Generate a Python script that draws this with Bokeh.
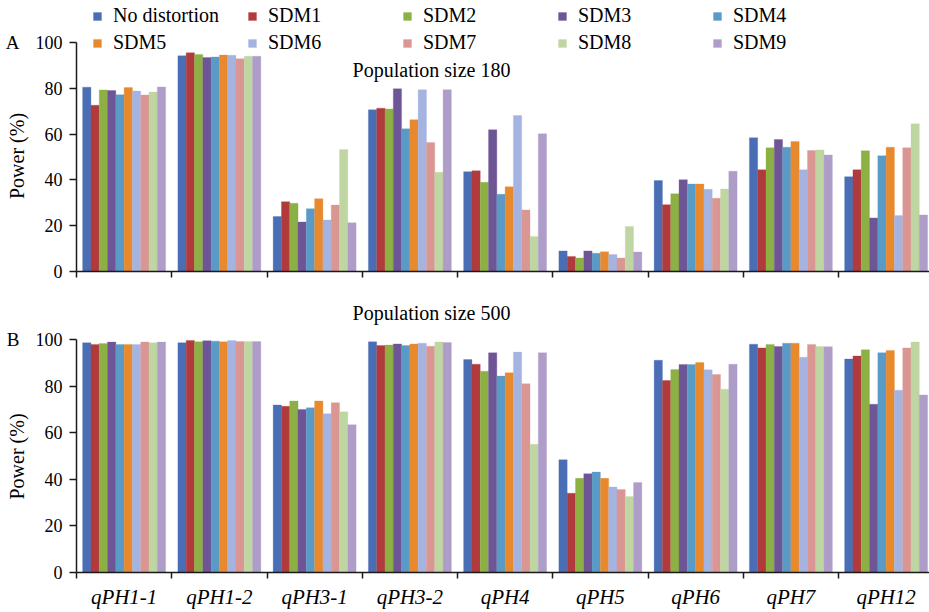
from bokeh.plotting import figure
from bokeh.models import (ColumnDataSource, FixedTicker, Legend, LegendItem, Label, Range1d,
                          LinearAxis)
from bokeh.layouts import column
from bokeh.embed import file_html
from bokeh.resources import INLINE

# ---------------- data ----------------
categories = ["qPH1-1", "qPH1-2", "qPH3-1", "qPH3-2", "qPH4", "qPH5", "qPH6", "qPH7", "qPH12"]
series = ["No distortion", "SDM1", "SDM2", "SDM3", "SDM4", "SDM5", "SDM6", "SDM7", "SDM8", "SDM9"]
colors = ["#4A6EB5", "#B03A3C", "#8DB044", "#6E5596", "#5A9AC6", "#E8892E",
          "#A4B3E0", "#D99693", "#BFD6A2", "#AE9DC9"]

# Population size 180 (panel A), power %
a_no_distortion = [80.5, 94.2, 24.0, 70.6, 43.6, 9.0, 39.7, 58.4, 41.4]
a_sdm1 = [72.6, 95.5, 30.5, 71.3, 44.0, 6.6, 29.2, 44.4, 44.4]
a_sdm2 = [79.3, 94.8, 29.8, 71.0, 39.0, 5.9, 33.9, 54.0, 52.7]
a_sdm3 = [79.0, 93.4, 21.6, 79.8, 61.9, 9.0, 40.1, 57.6, 23.4]
a_sdm4 = [77.2, 93.7, 27.4, 62.3, 33.7, 8.0, 38.2, 54.3, 50.5]
a_sdm5 = [80.3, 94.5, 31.8, 66.3, 37.0, 8.6, 38.2, 56.8, 54.3]
a_sdm6 = [78.8, 94.4, 22.5, 79.4, 68.1, 7.4, 35.9, 44.4, 24.4]
a_sdm7 = [77.1, 92.9, 29.0, 56.3, 26.9, 5.9, 32.0, 52.8, 54.0]
a_sdm8 = [78.4, 94.0, 53.3, 43.3, 15.3, 19.6, 36.0, 53.1, 64.5]
a_sdm9 = [80.6, 94.0, 21.3, 79.4, 60.1, 8.5, 43.8, 50.9, 24.7]

# Population size 500 (panel B), power %
b_no_distortion = [98.6, 98.6, 71.9, 99.0, 91.4, 48.4, 91.1, 98.0, 91.6]
b_sdm1 = [97.9, 99.6, 71.3, 97.4, 89.4, 34.0, 82.4, 96.4, 92.9]
b_sdm2 = [98.3, 99.0, 73.6, 97.6, 86.4, 40.4, 87.1, 97.9, 95.6]
b_sdm3 = [98.9, 99.5, 70.0, 98.1, 94.3, 42.4, 89.3, 97.0, 72.2]
b_sdm4 = [97.9, 99.3, 70.7, 97.4, 84.3, 43.1, 89.3, 98.4, 94.3]
b_sdm5 = [97.9, 99.0, 73.6, 98.1, 85.7, 40.4, 90.1, 98.4, 95.3]
b_sdm6 = [97.9, 99.6, 68.1, 98.4, 94.6, 36.7, 87.0, 92.4, 78.2]
b_sdm7 = [98.9, 99.1, 72.9, 97.1, 81.0, 35.6, 85.0, 97.9, 96.4]
b_sdm8 = [98.6, 99.1, 69.0, 98.9, 55.0, 32.6, 78.7, 97.0, 98.9]
b_sdm9 = [98.9, 99.1, 63.4, 98.7, 94.3, 38.6, 89.4, 96.9, 76.2]

y_ticks = [0, 20, 40, 60, 80, 100]
panel_titles = ["Population size 180", "Population size 500"]
panel_letters = ["A", "B"]
y_title = "Power (%)"

values_a = [a_no_distortion, a_sdm1, a_sdm2, a_sdm3, a_sdm4, a_sdm5, a_sdm6, a_sdm7, a_sdm8, a_sdm9]
values_b = [b_no_distortion, b_sdm1, b_sdm2, b_sdm3, b_sdm4, b_sdm5, b_sdm6, b_sdm7, b_sdm8, b_sdm9]

# ---------------- styling ----------------
SERIF = "Liberation Serif, Times New Roman, serif"
FRAME_W = 853
CAT_PX = 95.25
X_END = -0.5 + FRAME_W / CAT_PX
BAR_W = 0.0871
AXIS_COLOR = "#1a1a1a"
NBSP = "\u00a0"

centers = list(range(len(categories)))
boundaries = [c - 0.5 for c in centers]


def make_panel(values, frame_h, y_end, show_labels, bottom_border, letter, title_pad):
    p = figure(frame_width=FRAME_W, frame_height=frame_h, output_backend="svg",
               toolbar_location=None, x_range=Range1d(-0.5, X_END),
               y_range=Range1d(0, y_end), min_border_left=76, min_border_right=0,
               min_border_top=0, min_border_bottom=bottom_border)
    p.outline_line_color = None
    p.xgrid.visible = False
    p.ygrid.visible = False
    p.background_fill_color = "white"
    p.border_fill_color = "white"

    renderers = []
    n = len(values)
    for j, vals in enumerate(values):
        off = (j - (n - 1) / 2) * BAR_W
        src = ColumnDataSource(dict(x=[c + off for c in centers], top=vals))
        r = p.vbar(x="x", top="top", bottom=0, width=BAR_W, source=src,
                   fill_color=colors[j], line_color=colors[j], line_width=0.3)
        renderers.append(r)

    # y axis
    ya = p.yaxis[0]
    ya.ticker = FixedTicker(ticks=y_ticks, minor_ticks=[])
    ya.bounds = (0, 100)
    ya.axis_line_color = AXIS_COLOR
    ya.axis_line_width = 1.5
    ya.major_tick_line_color = AXIS_COLOR
    ya.major_tick_line_width = 1.5
    ya.major_tick_out = 7
    ya.major_tick_in = 0
    ya.minor_tick_line_color = None
    ya.major_label_standoff = 7
    ya.major_label_text_font = SERIF
    ya.major_label_text_font_size = "18px"
    ya.major_label_text_color = "black"
    # trailing non-breaking spaces move the title down onto the middle of the 0-100 axis
    ya.axis_label = y_title + NBSP * title_pad
    ya.axis_label_standoff = 5
    ya.axis_label_text_font = SERIF
    ya.axis_label_text_font_size = "20px"
    ya.axis_label_text_font_style = "normal"
    ya.axis_label_text_color = "black"

    # panel letter as an outer left axis with a single labelled tick at 100
    la = LinearAxis(ticker=FixedTicker(ticks=[100], minor_ticks=[]),
                    major_label_overrides={100: letter}, bounds=(0, 100),
                    axis_line_color=None, major_tick_line_color=None,
                    minor_tick_line_color=None, major_tick_out=0, major_tick_in=0,
                    major_label_standoff=-17, major_label_text_font=SERIF,
                    major_label_text_font_size="19px", major_label_text_color="black")
    p.add_layout(la, "left")

    # x axis: labels at centers (major), ticks at boundaries (minor)
    xa = p.xaxis[0]
    xa.ticker = FixedTicker(ticks=centers, minor_ticks=boundaries)
    xa.axis_line_color = AXIS_COLOR
    xa.axis_line_width = 1.5
    xa.major_tick_line_color = None
    xa.major_tick_out = 0
    xa.major_tick_in = 0
    xa.minor_tick_line_color = AXIS_COLOR
    xa.minor_tick_line_width = 1.5
    xa.minor_tick_out = 6
    xa.minor_tick_in = 0
    if show_labels:
        xa.major_label_overrides = {c: categories[i] for i, c in enumerate(centers)}
        xa.major_label_text_font = SERIF
        xa.major_label_text_font_style = "italic"
        xa.major_label_text_font_size = "21px"
        xa.major_label_text_color = "black"
        xa.major_label_standoff = 6
    else:
        xa.major_label_overrides = {c: "" for c in centers}
        xa.major_label_text_font_size = "0px"
        xa.major_label_standoff = 0
    return p, renderers


def x_of_page(px):
    return (px - 76) / CAT_PX - 0.5


# Panel A
pA, rendA = make_panel(values_a, 271, 271 / 2.29, False, 14, panel_letters[0], 8)
# Panel B
pB, rendB = make_panel(values_b, 287, 287 / 2.33, True, 40, panel_letters[1], 11)

legend = Legend(items=[LegendItem(label=s, renderers=[rendA[i]]) for i, s in enumerate(series)],
                orientation="horizontal", ncols=5,
                location=(16, 217), padding=0, margin=0, spacing=4,
                glyph_width=10, glyph_height=10, label_standoff=11, label_width=130,
                label_height=18,
                label_text_font=SERIF, label_text_font_size="20px", label_text_color="black",
                border_line_color=None, background_fill_alpha=0)
pA.add_layout(legend)

for p, title, ty in [(pA, panel_titles[0], 88.2), (pB, panel_titles[1], 111.2)]:
    p.add_layout(Label(x=x_of_page(431), y=ty, text=title, text_align="center",
                       text_baseline="middle", text_font=SERIF, text_font_size="20px",
                       text_color="black"))

layout = column(pA, pB, spacing=0)
open("out.html", "w").write(file_html(layout, INLINE))
